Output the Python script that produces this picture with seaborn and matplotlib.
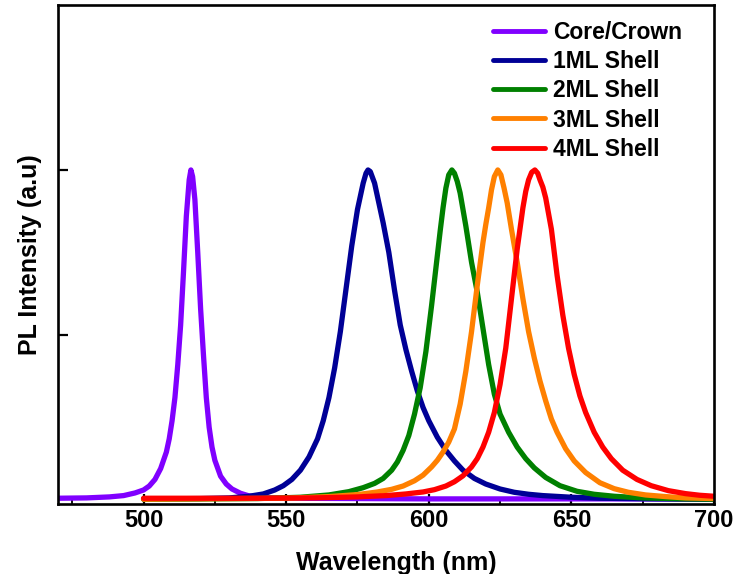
import matplotlib
matplotlib.use("Agg")
import matplotlib.pyplot as plt
from matplotlib.ticker import MultipleLocator, NullFormatter
import seaborn as sns
import pandas as pd

# Photoluminescence spectra (normalised intensity vs. wavelength in nm)
core_crown_wl = [470, 480, 488, 493, 497, 500, 502, 504, 506, 508, 509, 510, 511, 512, 513,
                 514, 515, 516, 516.6, 517.2, 518, 519, 520, 521, 522, 523, 524, 525, 527,
                 529, 531, 534, 537, 542, 550, 575, 600, 650, 700]
core_crown_pl = [0.005, 0.006, 0.009, 0.013, 0.021, 0.03, 0.042, 0.062, 0.095, 0.145, 0.185,
                 0.24, 0.31, 0.41, 0.53, 0.69, 0.86, 0.97, 1.0, 0.98, 0.91, 0.75, 0.58, 0.44,
                 0.31, 0.22, 0.16, 0.12, 0.072, 0.048, 0.033, 0.02, 0.012, 0.007, 0.005,
                 0.004, 0.003, 0.003, 0.003]

shell1_wl = [500, 520, 530, 537, 542, 546, 549, 552, 555, 558, 561, 563, 565, 567, 569, 571,
             573, 575, 577, 578, 578.7, 579.5, 581, 582, 584, 586, 588, 590, 592, 594, 596,
             598, 600, 603, 606, 609, 612, 616, 620, 625, 630, 635, 640, 650, 660, 680, 700]
shell1_pl = [0.003, 0.004, 0.006, 0.011, 0.018, 0.03, 0.043, 0.062, 0.09, 0.13, 0.185, 0.24,
             0.31, 0.4, 0.51, 0.64, 0.77, 0.88, 0.96, 0.99, 1.0, 0.995, 0.96, 0.92, 0.84,
             0.75, 0.635, 0.53, 0.455, 0.39, 0.33, 0.28, 0.24, 0.19, 0.15, 0.118, 0.09,
             0.065, 0.048, 0.033, 0.023, 0.017, 0.013, 0.008, 0.005, 0.003, 0.002]

shell2_wl = [500, 540, 555, 565, 572, 577, 581, 584, 587, 589, 591, 593, 595, 597, 599, 601,
             603, 604, 605, 606, 607, 608.1, 609, 610, 611, 613, 615, 617, 619, 621, 623, 625,
             628, 631, 634, 637, 641, 646, 652, 658, 665, 675, 690, 700]
shell2_pl = [0.002, 0.004, 0.008, 0.015, 0.025, 0.037, 0.05, 0.065, 0.09, 0.115, 0.15, 0.195,
             0.26, 0.34, 0.45, 0.59, 0.74, 0.815, 0.885, 0.945, 0.985, 1.0, 0.99, 0.965, 0.93,
             0.83, 0.72, 0.63, 0.52, 0.41, 0.32, 0.26, 0.205, 0.16, 0.125, 0.097, 0.068,
             0.043, 0.026, 0.017, 0.011, 0.006, 0.003, 0.002]

shell3_wl = [500, 550, 565, 575, 582, 587, 591, 595, 598, 601, 603, 605, 607, 609, 611, 613,
             615, 617, 619, 620, 621, 622, 623, 624.2, 625.3, 626.4, 627.5, 629, 631, 633, 635,
             637, 639, 641, 643, 645, 648, 651, 655, 660, 665, 670, 676, 683, 690, 700]
shell3_pl = [0.002, 0.005, 0.01, 0.016, 0.024, 0.032, 0.042, 0.058, 0.075, 0.1, 0.12, 0.145,
             0.175, 0.215, 0.29, 0.39, 0.51, 0.65, 0.78, 0.835, 0.885, 0.94, 0.98, 1.0, 0.985,
             0.945, 0.9, 0.82, 0.72, 0.61, 0.51, 0.43, 0.36, 0.3, 0.245, 0.205, 0.155, 0.118,
             0.083, 0.052, 0.034, 0.023, 0.015, 0.01, 0.006, 0.004]

shell4_wl = [500, 540, 560, 575, 585, 592, 598, 602, 606, 609, 612, 615, 617, 619, 621, 623,
             625, 627, 629, 631, 633, 634, 635, 636.1, 637.2, 638.2, 639, 640, 641, 643, 645,
             647, 649, 651, 653, 655, 658, 661, 664, 668, 673, 678, 684, 690, 695, 700]
shell4_pl = [0.005, 0.005, 0.006, 0.009, 0.013, 0.018, 0.024, 0.031, 0.042, 0.055, 0.073, 0.1,
             0.125, 0.16, 0.205, 0.265, 0.35, 0.46, 0.61, 0.76, 0.885, 0.935, 0.97, 0.993, 1.0,
             0.99, 0.97, 0.948, 0.915, 0.82, 0.68, 0.56, 0.46, 0.38, 0.315, 0.265, 0.205,
             0.16, 0.125, 0.09, 0.062, 0.043, 0.028, 0.019, 0.014, 0.011]

series_names = ["Core/Crown", "1ML Shell", "2ML Shell", "3ML Shell", "4ML Shell"]
series_colors = ["#8000FF", "#000096", "#008000", "#FF8000", "#FF0000"]
x_ticks = [500, 550, 600, 650, 700]

frames = []
for name, wl, pl in zip(series_names,
                        [core_crown_wl, shell1_wl, shell2_wl, shell3_wl, shell4_wl],
                        [core_crown_pl, shell1_pl, shell2_pl, shell3_pl, shell4_pl]):
    frames.append(pd.DataFrame({"Wavelength": wl, "PL": pl, "Sample": name}))
df = pd.concat(frames, ignore_index=True)

sns.set_style("ticks")
plt.rcParams["font.family"] = ["Liberation Sans", "DejaVu Sans"]
plt.rcParams["font.weight"] = "bold"
plt.rcParams["axes.labelweight"] = "bold"
plt.rcParams["text.color"] = "black"
plt.rcParams["axes.labelcolor"] = "black"
plt.rcParams["xtick.color"] = "black"
plt.rcParams["ytick.color"] = "black"
plt.rcParams["axes.edgecolor"] = "black"

fig = plt.figure(figsize=(7.35, 5.74), dpi=100)
ax = fig.add_axes([0.0789, 0.1228, 0.8925, 0.8685])

sns.lineplot(data=df, x="Wavelength", y="PL", hue="Sample", hue_order=series_names,
             palette=series_colors, linewidth=3.8, estimator=None, sort=True,
             legend=False, ax=ax)
for line in ax.get_lines():
    line.set_solid_capstyle("round")
    line.set_solid_joinstyle("round")

ax.set_xlim(470, 700)
ax.set_ylim(-0.011, 1.5)
ax.set_xticks(x_ticks)
ax.xaxis.set_minor_locator(MultipleLocator(25))
ax.set_yticks([0.5, 1.0])
ax.yaxis.set_major_formatter(NullFormatter())
ax.tick_params(axis="both", which="major", direction="in", length=7, width=1.6,
               labelsize=17, pad=4, colors="black", labelcolor="black")
ax.tick_params(axis="x", which="minor", direction="in", length=4, width=1.3, colors="black")
for tl in ax.get_xticklabels():
    tl.set_fontweight("bold")

for side in ["left", "right", "top", "bottom"]:
    ax.spines[side].set_linewidth(1.9)
    ax.spines[side].set_color("black")

ax.set_xlabel("Wavelength (nm)", fontsize=18, fontweight="bold", color="black")
ax.set_ylabel("PL Intensity (a.u)", fontsize=18, fontweight="bold", color="black")
ax.xaxis.set_label_coords(0.516, -0.095)
ax.yaxis.set_label_coords(-0.025, 0.5)

handles = ax.get_lines()[:len(series_names)]
leg = ax.legend(handles, series_names, loc="upper left", bbox_to_anchor=(0.6627, 0.968),
                frameon=False, fontsize=16.5, handlelength=2.3, handletextpad=0.35,
                labelspacing=0.27, borderpad=0, borderaxespad=0)
for t in leg.get_texts():
    t.set_fontweight("bold")
    t.set_color("black")
for lh in leg.get_lines():
    lh.set_linewidth(3.5)

fig.savefig("out.png", dpi=100)
